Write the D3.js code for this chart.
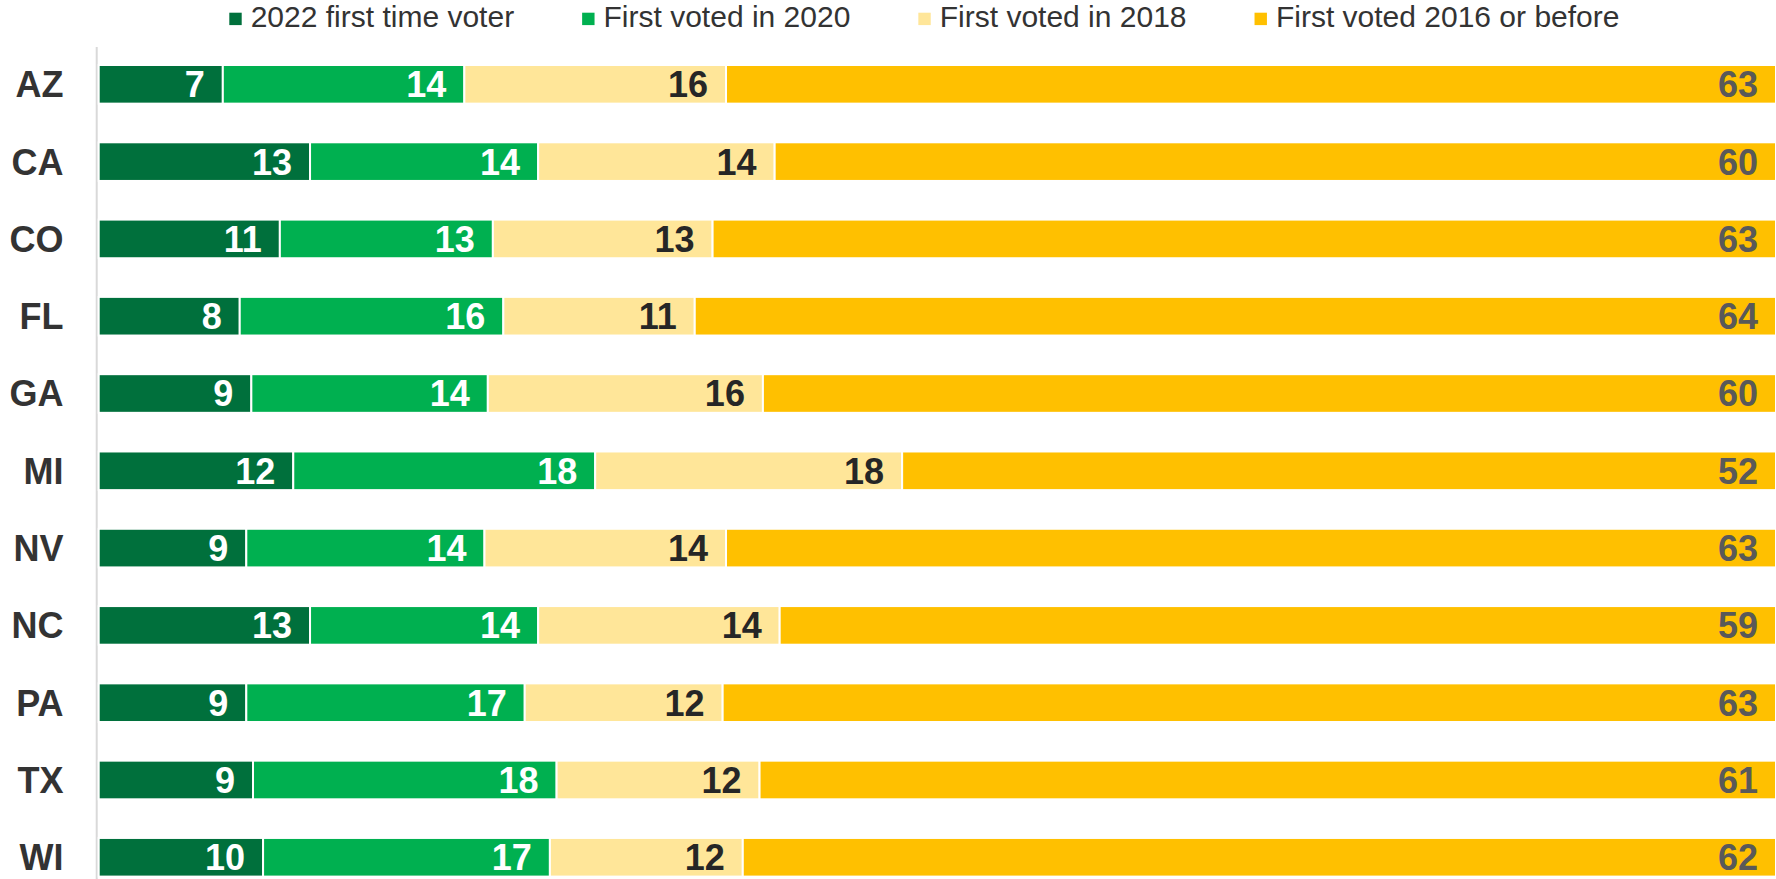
<!DOCTYPE html>
<html>
<head>
<meta charset="utf-8">
<script src="https://cdn.jsdelivr.net/npm/d3@7"></script>
<style>
  body { margin: 0; background: #fff; }
  text { font-family: Arial, "Liberation Sans", sans-serif; }
</style>
</head>
<body>
<div id="chart"></div>
<script>
// data (shares in %, labels show them rounded)
var states = ["AZ", "CA", "CO", "FL", "GA", "MI", "NV", "NC", "PA", "TX", "WI"];
var seriesNames = ["2022 first time voter", "First voted in 2020", "First voted in 2018", "First voted 2016 or before"];
var firstTime2022 = [7.4, 12.6, 10.8, 8.4, 9.1, 11.6, 8.8, 12.6, 8.8, 9.2, 9.8];
var first2020 = [14.4, 13.6, 12.7, 15.7, 14.1, 18.0, 14.2, 13.6, 16.6, 18.1, 17.1];
var first2018 = [15.6, 14.1, 13.1, 11.4, 16.4, 18.3, 14.4, 14.4, 11.8, 12.1, 11.5];
var before2016 = [62.6, 59.7, 63.4, 64.4, 60.4, 52.1, 62.6, 59.4, 62.8, 60.6, 61.6];

var colors = ["#00703c", "#00b050", "#ffe699", "#ffc000"];
var labelColors = ["#ffffff", "#ffffff", "#262626", "#595959"];

var W = 1776, H = 879;
var margin = { top: 65, right: 0, bottom: 2, left: 98.7 };

var svg = d3.select("#chart")
    .append("svg")
    .attr("width", W)
    .attr("height", H);

// build rows for the stack
var keys = ["k0", "k1", "k2", "k3"];
var rows = states.map(function (s, i) {
    return { state: s, k0: firstTime2022[i], k1: first2020[i], k2: first2018[i], k3: before2016[i] };
});

var stack = d3.stack().keys(keys).offset(d3.stackOffsetExpand);
var layers = stack(rows);

var fmt = d3.format(".0f");

var x = d3.scaleLinear().domain([0, 1]).range([margin.left, W - margin.right]);
var y = d3.scaleBand()
    .domain(states)
    .range([margin.top, margin.top + 811.6])
    .paddingInner(0.5)
    .paddingOuter(0);

// axis line on the left
svg.append("line")
    .attr("x1", margin.left - 2)
    .attr("x2", margin.left - 2)
    .attr("y1", 47)
    .attr("y2", H)
    .attr("stroke", "#d9d9d9")
    .attr("stroke-width", 2);

// bars
var layer = svg.selectAll(".layer")
    .data(layers)
    .enter().append("g")
    .attr("class", "layer")
    .attr("fill", function (d, i) { return colors[i]; });

layer.selectAll("rect")
    .data(function (d) { return d; })
    .enter().append("rect")
    .attr("x", function (d) { return x(d[0]); })
    .attr("y", function (d) { return y(d.data.state); })
    .attr("width", function (d) { return x(d[1]) - x(d[0]); })
    .attr("height", y.bandwidth())
    .attr("stroke", "#fff")
    .attr("stroke-width", 2);

// value labels, inside end
layer.each(function (L, li) {
    d3.select(this).selectAll("text")
        .data(L)
        .enter().append("text")
        .attr("x", function (d) { return x(d[1]) - 18; })
        .attr("y", function (d) { return y(d.data.state) + y.bandwidth() / 2; })
        .attr("dy", "0.36em")
        .attr("text-anchor", "end")
        .attr("fill", labelColors[li])
        .style("font-size", "36px")
        .style("font-weight", "bold")
        .text(function (d) { return fmt(d.data[keys[li]]); });
});

// state labels
svg.selectAll(".state")
    .data(states)
    .enter().append("text")
    .attr("class", "state")
    .attr("x", 63.5)
    .attr("y", function (d) { return y(d) + y.bandwidth() / 2; })
    .attr("dy", "0.36em")
    .attr("text-anchor", "end")
    .attr("fill", "#333333")
    .style("font-size", "36px")
    .style("font-weight", "bold")
    .text(function (d) { return d; });

// legend
var legend = svg.append("g").attr("class", "legend");
var lx = 229.3;
seriesNames.forEach(function (name, i) {
    legend.append("rect")
        .attr("x", lx)
        .attr("y", 12.7)
        .attr("width", 12.4)
        .attr("height", 12.4)
        .attr("fill", colors[i]);
    var t = legend.append("text")
        .attr("x", lx + 21.4)
        .attr("y", 27.3)
        .attr("fill", "#333333")
        .style("font-size", "30px")
        .text(name);
    lx = lx + 21.4 + t.node().getComputedTextLength() + 68;
});
</script>
</body>
</html>
